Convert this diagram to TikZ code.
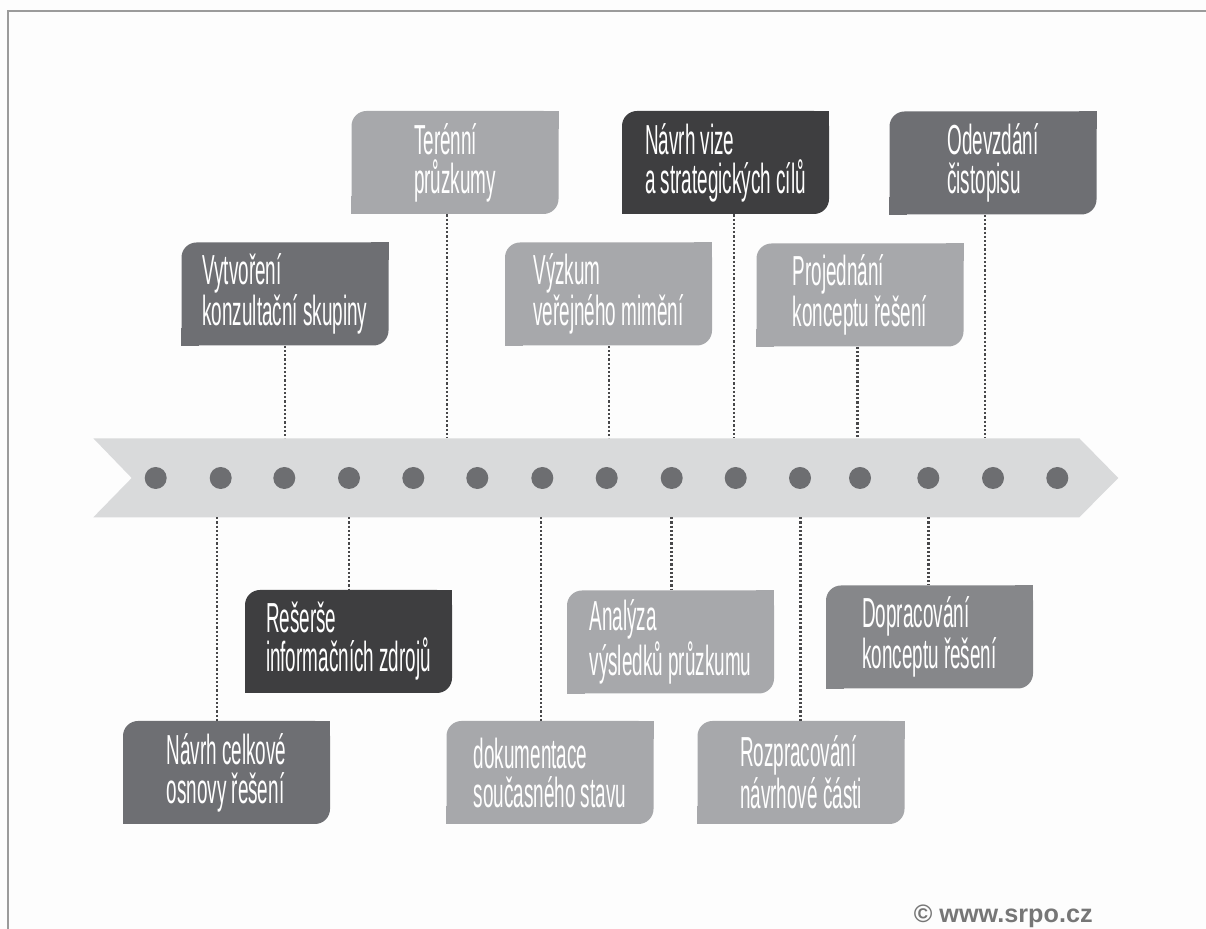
\documentclass[tikz,border=0pt]{standalone}
\usepackage{fontspec}
\usepackage{xcolor}
\newfontfamily\boxfont[FakeStretch=0.45]{Liberation Sans}
\newfontfamily\markfont{Liberation Sans}

\definecolor{pagewhite}{RGB}{253,253,253}
\definecolor{framegray}{RGB}{155,155,155}
\definecolor{bandgray}{RGB}{217,218,219}
\definecolor{dotgray}{RGB}{109,110,113}
\definecolor{linegray}{RGB}{72,72,74}
\definecolor{boxlight}{RGB}{167,168,171}
\definecolor{boxmid}{RGB}{110,111,115}
\definecolor{boxdark}{RGB}{62,62,64}
\definecolor{boxsoft}{RGB}{134,135,138}
\definecolor{markgray}{RGB}{118,118,118}

\tikzset{
  taskbox/.style={fill=#1, rounded corners=7.5pt, minimum width=103.5pt, minimum height=51.5pt,
    inner sep=0pt, text=white, align=left, font=\boxfont\fontsize{21}{19.5}\selectfont},
  conn/.style={linegray, line width=1.4pt, dash pattern=on 1.1pt off 1pt}
}

\begin{document}
\begin{tikzpicture}[x=0.5pt,y=-0.5pt]
\useasboundingbox (0,0) rectangle (1206,929);
\fill[pagewhite] (0,0) rectangle (1206,929);
%frame
\draw[framegray, line width=1pt] (8,929) -- (8,11) -- (1206,11);

%Band
\fill[bandgray] (93.3,438.3) -- (1079.3,438.3) -- (1118.3,478) -- (1079.3,517.3) -- (93.3,517.3) -- (131.7,478) -- cycle;

% Text Node
\node[taskbox=boxlight] (terenni) at (455,162.5) {Terénní\\průzkumy};
% Text Node
\node[taskbox=boxdark] (vize) at (725.5,162.5) {Návrh vize\\a strategických cílů};
% Text Node
\node[taskbox=boxmid] (odevzdani) at (993,163) {Odevzdání\\čistopisu};
% Text Node
\node[taskbox=boxmid] (vytvoreni) at (285,294) {Vytvoření\\konzultační skupiny};
% Text Node
\node[taskbox=boxlight] (vyzkum) at (608.5,294) {Výzkum\\veřejného mimění};
% Text Node
\node[taskbox=boxlight] (projednani) at (860,295) {Projednání\\konceptu řešení};
% Text Node
\node[taskbox=boxdark] (reserse) at (348.5,641.5) {Rešerše\\informačních zdrojů};
% Text Node
\node[taskbox=boxlight] (analyza) at (670.5,642) {Analýza\\výsledků průzkumu};
% Text Node
\node[taskbox=boxsoft] (dopracovani) at (929.5,637) {Dopracování\\konceptu řešení};
% Text Node
\node[taskbox=boxmid] (celkove) at (226.5,772.5) {Návrh celkové\\osnovy řešení};
% Text Node
\node[taskbox=boxlight] (dokumentace) at (550,772.5) {dokumentace\\současného stavu};
% Text Node
\node[taskbox=boxlight] (rozpracovani) at (801,772.5) {Rozpracování\\návrhové části};

%square corners (top right, bottom left)
\foreach \n/\c in {terenni/boxlight,vize/boxdark,odevzdani/boxmid,vytvoreni/boxmid,vyzkum/boxlight,
  projednani/boxlight,reserse/boxdark,analyza/boxlight,dopracovani/boxsoft,celkove/boxmid,
  dokumentace/boxlight,rozpracovani/boxlight}{
  \fill[\c] (\n.north east) rectangle ([xshift=-9pt,yshift=-9pt]\n.north east);
  \fill[\c] (\n.south west) rectangle ([xshift=9pt,yshift=9pt]\n.south west);
}

%Band edge points
\coordinate (up1) at (285,438.3);
\coordinate (up2) at (447,438.3);
\coordinate (up3) at (609,438.3);
\coordinate (up4) at (734,438.3);
\coordinate (up5) at (857.5,438.3);
\coordinate (up6) at (985,438.3);
\coordinate (dn1) at (217,517.3);
\coordinate (dn2) at (349,517.3);
\coordinate (dn3) at (541,517.3);
\coordinate (dn4) at (671.5,517.3);
\coordinate (dn5) at (800.5,517.3);
\coordinate (dn6) at (928.3,517.3);

%Dotted Lines
\draw[conn] (vytvoreni.south -| up1) -- (up1);
\draw[conn] (terenni.south -| up2) -- (up2);
\draw[conn] (vyzkum.south -| up3) -- (up3);
\draw[conn] (vize.south -| up4) -- (up4);
\draw[conn] (projednani.south -| up5) -- (up5);
\draw[conn] (odevzdani.south -| up6) -- (up6);
\draw[conn] (dn1) -- (celkove.north -| dn1);
\draw[conn] (dn2) -- (reserse.north -| dn2);
\draw[conn] (dn3) -- (dokumentace.north -| dn3);
\draw[conn] (dn4) -- (analyza.north -| dn4);
\draw[conn] (dn5) -- (rozpracovani.north -| dn5);
\draw[conn] (dn6) -- (dopracovani.north -| dn6);

%Dots
\foreach \dx in {155.7,220.7,284.3,349,413.3,477.3,542.3,606.7,671.7,735.7,800,860,928.3,993,1057.3}
  \fill[dotgray] (\dx,478) circle[radius=5.5pt];

% Text Node
\node[anchor=base east, inner sep=0pt, text=markgray, font=\markfont\bfseries\fontsize{12.6}{14}\selectfont] (web) at (1093,923) {© www.srpo.cz};
\end{tikzpicture}
\end{document}
